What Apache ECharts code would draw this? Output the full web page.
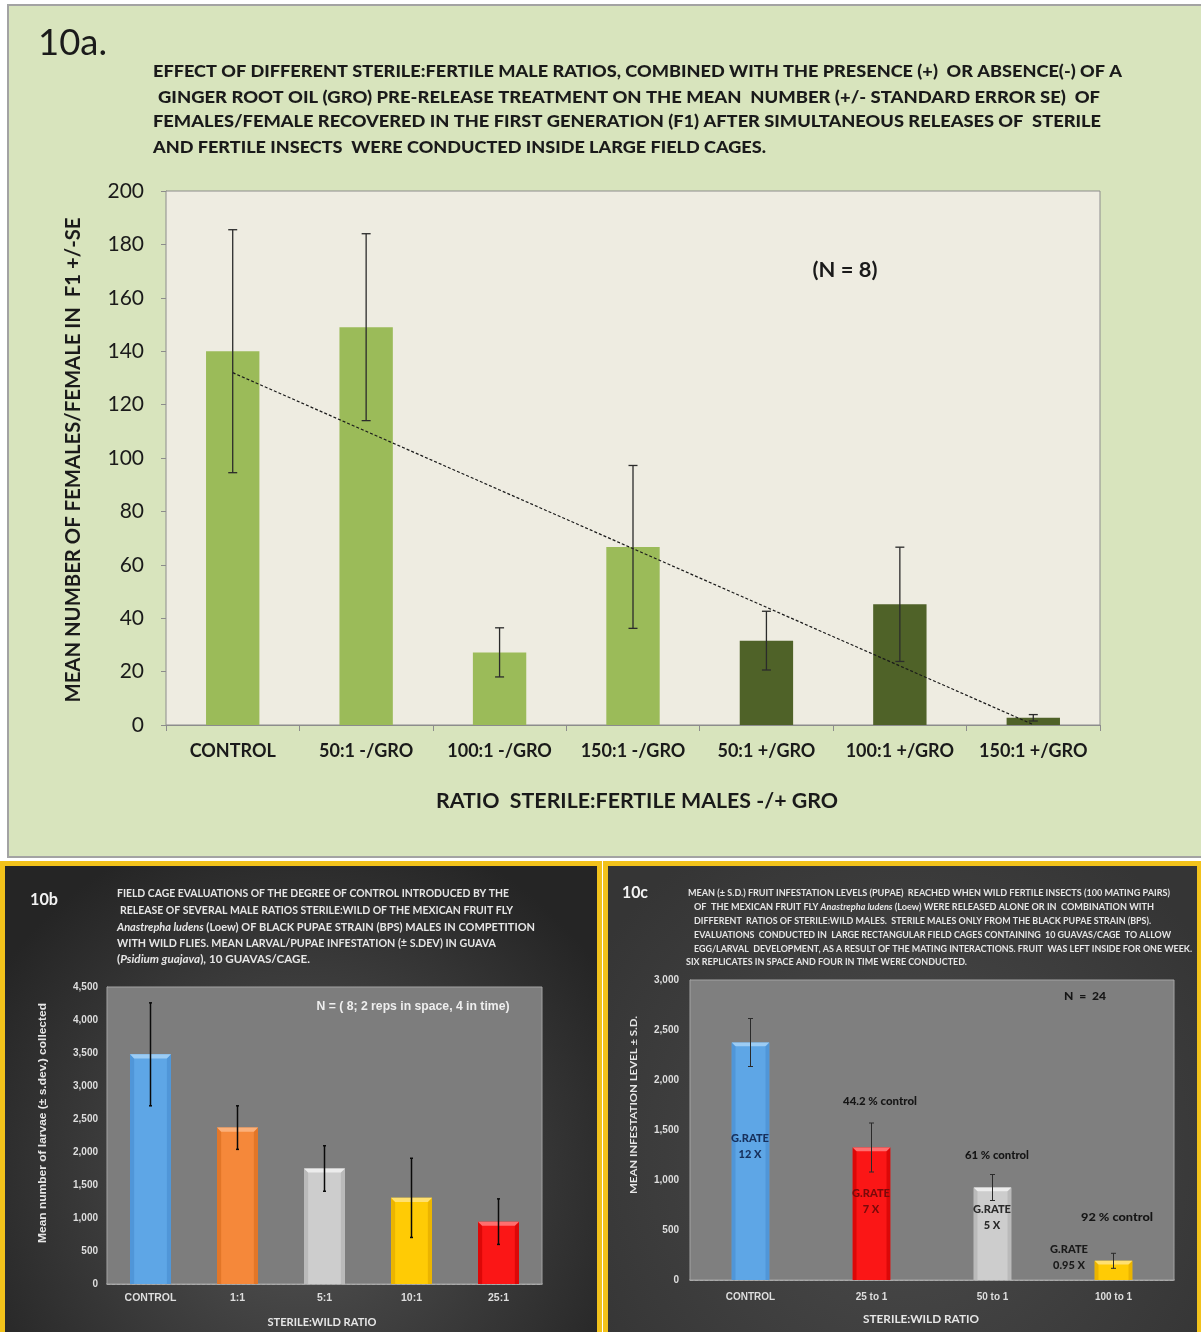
<!DOCTYPE html>
<html>
<head>
<meta charset="utf-8">
<script src="https://cdn.jsdelivr.net/npm/echarts@6/dist/echarts.min.js"></script>
<style>
  html, body { margin: 0; padding: 0; background: #ffffff; }
  #chart { width: 1201px; height: 1332px; }
</style>
</head>
<body>
<div id="chart"></div>
<script>
// ---------- 10a: sterile:fertile ratios with / without GRO ----------
const catsA = ['CONTROL', '50:1 -/GRO', '100:1 -/GRO', '150:1 -/GRO', '50:1 +/GRO', '100:1 +/GRO', '150:1 +/GRO'];
const meanA = [140, 149, 27.2, 66.7, 31.6, 45.2, 2.7];
const seA = [45.5, 35, 9.2, 30.5, 11, 21.4, 1.2];
const groA = [false, false, false, false, true, true, true];
const yTicksA = [0, 20, 40, 60, 80, 100, 120, 140, 160, 180, 200];

// ---------- 10b: larvae per sterile:wild ratio ----------
const catsB = ['CONTROL', '1:1', '5:1', '10:1', '25:1'];
const meanB = [3480, 2370, 1750, 1305, 945];
const sdB = [780, 330, 345, 600, 345];
const yTicksB = [0, 500, 1000, 1500, 2000, 2500, 3000, 3500, 4000, 4500];

// ---------- 10c: infestation per sterile:wild ratio ----------
const catsC = ['CONTROL', '25 to 1', '50 to 1', '100 to 1'];
const meanC = [2375, 1325, 925, 192];
const sdC = [240, 245, 130, 75];
const controlPctC = ['', '44.2 % control', '61 % control', '92 % control'];
const growthRateC = ['12 X', '7 X', '5 X', '0.95 X'];
const yTicksC = [0, 500, 1000, 1500, 2000, 2500, 3000];

// ---------- text ----------
const headA = [
  'EFFECT OF DIFFERENT STERILE:FERTILE MALE RATIOS, COMBINED WITH THE PRESENCE (+)  OR ABSENCE(-) OF A',
  'GINGER ROOT OIL (GRO) PRE-RELEASE TREATMENT ON THE MEAN  NUMBER (+/- STANDARD ERROR SE)  OF',
  'FEMALES/FEMALE RECOVERED IN THE FIRST GENERATION (F1) AFTER SIMULTANEOUS RELEASES OF  STERILE',
  'AND FERTILE INSECTS  WERE CONDUCTED INSIDE LARGE FIELD CAGES.'
];
const headB = [
  [['FIELD CAGE EVALUATIONS OF THE DEGREE OF CONTROL INTRODUCED BY THE']],
  [['RELEASE OF SEVERAL MALE RATIOS STERILE:WILD OF THE MEXICAN FRUIT FLY']],
  [['Anastrepha ludens', true], [' (Loew) OF BLACK PUPAE STRAIN (BPS) MALES IN COMPETITION']],
  [['WITH WILD FLIES. MEAN LARVAL/PUPAE INFESTATION (\u00b1 S.DEV) IN GUAVA']],
  [['('], ['Psidium guajava', true], ['), 10 GUAVAS/CAGE.']]
];
const headC = [
  [['MEAN (\u00b1 S.D.) FRUIT INFESTATION LEVELS (PUPAE)  REACHED WHEN WILD FERTILE INSECTS (100 MATING PAIRS)']],
  [['OF  THE MEXICAN FRUIT FLY '], ['Anastrepha ludens', true], [' (Loew) WERE RELEASED ALONE OR IN  COMBINATION WITH']],
  [['DIFFERENT  RATIOS OF STERILE:WILD MALES.  STERILE MALES ONLY FROM THE BLACK PUPAE STRAIN (BPS).']],
  [['EVALUATIONS  CONDUCTED IN  LARGE RECTANGULAR FIELD CAGES CONTAINING  10 GUAVAS/CAGE  TO ALLOW']],
  [['EGG/LARVAL  DEVELOPMENT, AS A RESULT OF THE MATING INTERACTIONS. FRUIT  WAS LEFT INSIDE FOR ONE WEEK.']],
  [['SIX REPLICATES IN SPACE AND FOUR IN TIME WERE CONDUCTED.']]
];

// ---------- fonts / helpers ----------
const FONT_A = 'Lato, "Liberation Sans", sans-serif';
const FONT_N = '"Liberation Sans Narrow", "Liberation Sans", sans-serif';
const mctx = document.createElement('canvas').getContext('2d');

// Text line squeezed/stretched horizontally so it spans a given width
function textLine(segs, o) {
  const weight = o.weight || 'bold';
  let w = 0;
  segs.forEach(([t, it]) => {
    mctx.font = `${it ? 'italic ' : ''}${weight} ${o.size}px ${o.family}`;
    w += mctx.measureText(t).width;
  });
  const sx = o.width ? o.width / w : 1;
  const base = { fill: o.color, fontSize: o.size, fontWeight: weight, fontFamily: o.family };
  const align = o.align || 'left';
  return {
    type: 'text', x: o.x, y: o.y, scaleX: sx, rotation: o.rotation || 0, z: 100,
    style: {
      text: segs.map(([t, it]) => `{${it ? 'i' : 'n'}|${t}}`).join(''),
      rich: { n: Object.assign({}, base), i: Object.assign({ fontStyle: 'italic' }, base) },
      fill: o.color, fontSize: o.size, fontWeight: weight, fontFamily: o.family,
      align: align, textAlign: align, verticalAlign: 'middle', textVerticalAlign: 'middle'
    }
  };
}
function plainText(text, o) {
  return textLine([[text]], o);
}

// least-squares trend through the 10a means
const nA = meanA.length;
const xMeanA = (nA - 1) / 2;
const yMeanA = meanA.reduce((s, v) => s + v, 0) / nA;
let sxy = 0, sxx = 0;
meanA.forEach((v, i) => { sxy += (i - xMeanA) * (v - yMeanA); sxx += (i - xMeanA) * (i - xMeanA); });
const slopeA = sxy / sxx;
const trendA = meanA.map((_, i) => yMeanA + slopeA * (i - xMeanA));

function errorBars(axis, means, errs, style, cap) {
  return {
    type: 'custom', xAxisIndex: axis, yAxisIndex: axis, z: 12, silent: true,
    data: means.map((m, i) => [i, m - errs[i], m + errs[i]]),
    renderItem(params, api) {
      const i = api.value(0);
      const lo = api.coord([i, api.value(1)]);
      const hi = api.coord([i, api.value(2)]);
      return {
        type: 'group', children: [
          { type: 'line', shape: { x1: lo[0], y1: lo[1], x2: hi[0], y2: hi[1] }, style },
          { type: 'line', shape: { x1: lo[0] - cap, y1: lo[1], x2: lo[0] + cap, y2: lo[1] }, style },
          { type: 'line', shape: { x1: hi[0] - cap, y1: hi[1], x2: hi[0] + cap, y2: hi[1] }, style }
        ]
      };
    }
  };
}

// bevelled bars for the dark panels
function bevelBars(axis, means, palette, frac) {
  return {
    type: 'custom', xAxisIndex: axis, yAxisIndex: axis, z: 5, silent: true,
    data: means.map((m, i) => [i, m]),
    renderItem(params, api) {
      const i = api.value(0);
      const top = api.coord([i, api.value(1)]);
      const base = api.coord([i, 0]);
      const bw = api.size([1, 0])[0] * frac;
      const x0 = top[0] - bw / 2, x1 = top[0] + bw / 2, y0 = top[1], y1 = base[1];
      const b = Math.max(3, bw * 0.1);
      const c = palette[i];
      return {
        type: 'group', children: [
          { type: 'rect', shape: { x: x0, y: y0, width: bw, height: y1 - y0 }, style: { fill: c[0] } },
          { type: 'polygon', shape: { points: [[x0, y0], [x0 + b, y0 + b], [x0 + b, y1], [x0, y1]] }, style: { fill: c[2] } },
          { type: 'polygon', shape: { points: [[x1, y0], [x1 - b, y0 + b], [x1 - b, y1], [x1, y1]] }, style: { fill: c[2] } },
          { type: 'polygon', shape: { points: [[x0, y0], [x1, y0], [x1 - b, y0 + b], [x0 + b, y0 + b]] }, style: { fill: c[1] } }
        ]
      };
    }
  };
}

const palB = [
  ['#5ea6e6', '#9cccf4', '#5096d8'],
  ['#f5883a', '#fbb07a', '#e27628'],
  ['#cdcdcd', '#ececec', '#bababa'],
  ['#ffcb05', '#ffe070', '#ebb400'],
  ['#fb1616', '#ff6e6e', '#dc0808']
];
const palC = [palB[0], palB[4], palB[2], palB[3]];

const thousands = v => v.toLocaleString('en-US');

// ---------- graphic layer ----------
const g = [];
// panel backgrounds
g.push({ type: 'rect', z: -20, shape: { x: 8, y: 5, width: 1200, height: 852 },
  style: { fill: '#d8e4bd', stroke: '#a3a3a3', lineWidth: 2 } });
g.push({ type: 'rect', z: -20, shape: { x: 2.5, y: 863.5, width: 597, height: 480 },
  style: { fill: new echarts.graphic.RadialGradient(0.5, 0.65, 0.75, [
    { offset: 0, color: '#565656' }, { offset: 1, color: '#252525' }]),
    stroke: '#f2c21b', lineWidth: 5 } });
g.push({ type: 'rect', z: -20, shape: { x: 605.5, y: 863.5, width: 594, height: 480 },
  style: { fill: new echarts.graphic.RadialGradient(0.5, 0.6, 0.75, [
    { offset: 0, color: '#4c4c4c' }, { offset: 1, color: '#353535' }]),
    stroke: '#f2c21b', lineWidth: 5 } });

// 10a texts
g.push(plainText('10a.', { x: 38, y: 43, size: 36, weight: 'normal', family: FONT_A, color: '#1a1a1a', width: 69 }));
const headAPos = [[153, 1122, 72], [158, 1100, 98], [153, 1101, 122], [153, 766, 148]];
headA.forEach((t, k) => {
  const p = headAPos[k];
  g.push(plainText(t, { x: p[0], y: p[2], size: 17, weight: 900, family: FONT_A, color: '#1a1a1a', width: p[1] - p[0] }));
});
g.push(plainText('(N = 8)', { x: 845, y: 271, size: 20, family: FONT_A, color: '#1a1a1a', align: 'center', width: 65 }));
g.push(plainText('RATIO  STERILE:FERTILE MALES -/+ GRO', { x: 637, y: 802, size: 20, family: FONT_A, color: '#1a1a1a', align: 'center', width: 402 }));
g.push(plainText('MEAN NUMBER OF FEMALES/FEMALE IN  F1 +/-SE', { x: 74, y: 460, size: 20, family: FONT_A, color: '#1a1a1a', align: 'center', width: 485, rotation: Math.PI / 2 }));

// 10b texts
g.push(plainText('10b', { x: 30, y: 900, size: 17, family: FONT_A, color: '#f2f2f2', width: 28 }));
const headBPos = [[117, 509, 893], [120, 513, 910], [117, 535, 927], [117, 496, 943], [117, 310, 959]];
headB.forEach((segs, k) => {
  const p = headBPos[k];
  g.push(textLine(segs, { x: p[0], y: p[2], size: 11.5, family: FONT_A, color: '#e6e6e6', width: p[1] - p[0] }));
});
g.push(plainText('N = ( 8; 2 reps in space, 4 in time)', { x: 413, y: 1007, size: 12, family: FONT_N, color: '#eeeeee', align: 'center', width: 193 }));
g.push(plainText('STERILE:WILD RATIO', { x: 322, y: 1322, size: 11, family: FONT_A, color: '#e6e6e6', align: 'center', width: 109 }));
g.push(plainText('Mean number of larvae (\u00b1 s.dev.) collected', { x: 43, y: 1123, size: 11, family: FONT_N, color: '#e6e6e6', align: 'center', width: 240, rotation: Math.PI / 2 }));

// 10c texts
g.push(plainText('10c', { x: 622, y: 893, size: 17, family: FONT_A, color: '#f2f2f2', width: 26 }));
const headCPos = [[688, 1170, 893], [694, 1154, 907], [694, 1151, 921], [694, 1171, 935], [694, 1192, 949], [686, 967, 962]];
headC.forEach((segs, k) => {
  const p = headCPos[k];
  g.push(textLine(segs, { x: p[0], y: p[2], size: 9.5, family: FONT_A, color: '#e6e6e6', width: p[1] - p[0] }));
});
g.push(plainText('N  =  24', { x: 1085, y: 996, size: 11, weight: 900, family: FONT_A, color: '#151515', align: 'center', width: 42 }));
g.push(plainText('STERILE:WILD RATIO', { x: 921, y: 1319, size: 11, family: FONT_A, color: '#e6e6e6', align: 'center', width: 116 }));
g.push(plainText('MEAN INFESTATION LEVEL \u00b1 S.D.', { x: 634, y: 1105, size: 10, family: FONT_A, color: '#e6e6e6', align: 'center', width: 178, rotation: Math.PI / 2 }));

// 10c bar annotations
const pctPos = [null, [880, 1101], [997, 1155], [1117, 1217]];
const pctW = [0, 74, 64, 72];
controlPctC.forEach((t, i) => {
  if (!t) return;
  g.push(plainText(t, { x: pctPos[i][0], y: pctPos[i][1], size: 11, weight: 900, family: FONT_A, color: '#151515', align: 'center', width: pctW[i] }));
});
const ratePos = [[750, 1138], [871, 1193], [992, 1209], [1069, 1249]];
const rateCol = ['#17305c', '#7a0a0a', '#2a2a2a', '#1a1a1a'];
growthRateC.forEach((t, i) => {
  const p = ratePos[i];
  g.push(plainText('G.RATE', { x: p[0], y: p[1], size: 11, weight: 900, family: FONT_A, color: rateCol[i], align: 'center', width: 38 }));
  g.push(plainText(t, { x: p[0], y: p[1] + 16, size: 11, weight: 900, family: FONT_A, color: rateCol[i], align: 'center' }));
});

// ---------- chart ----------
const chart = echarts.init(document.getElementById('chart'), null, { renderer: 'canvas', width: 1201, height: 1332 });

const darkAxisLabel = { color: '#dedede', fontWeight: 'bold', fontSize: 10.5, fontFamily: FONT_N };

chart.setOption({
  animation: false,
  backgroundColor: '#ffffff',
  graphic: { elements: g },
  grid: [
    { left: 166, top: 191, width: 934, height: 534, show: true, backgroundColor: '#eeece1', borderColor: '#8c8c8c', borderWidth: 1, z: 1 },
    { left: 107, top: 987, width: 435, height: 297, show: true, backgroundColor: '#7d7d7d', borderColor: '#a4a4a4', borderWidth: 1, z: 1 },
    { left: 690, top: 980, width: 484, height: 300, show: true, backgroundColor: '#7f7f7f', borderColor: '#a4a4a4', borderWidth: 1, z: 1 }
  ],
  xAxis: [
    { gridIndex: 0, type: 'category', data: catsA,
      axisLine: { lineStyle: { color: '#8c8c8c', width: 1 } },
      axisTick: { show: true, length: 6, lineStyle: { color: '#8c8c8c' } },
      axisLabel: { color: '#1a1a1a', fontWeight: 'bold', fontSize: 18, fontFamily: FONT_A, margin: 17, interval: 0 } },
    { gridIndex: 1, type: 'category', data: catsB,
      axisLine: { lineStyle: { color: '#b4b4b4', width: 1.5 } },
      axisTick: { show: false },
      axisLabel: Object.assign({ margin: 9, interval: 0 }, darkAxisLabel) },
    { gridIndex: 2, type: 'category', data: catsC,
      axisLine: { lineStyle: { color: '#b4b4b4', width: 1.5 } },
      axisTick: { show: false },
      axisLabel: Object.assign({ margin: 12, interval: 0 }, darkAxisLabel, { fontSize: 10 }) }
  ],
  yAxis: [
    { gridIndex: 0, type: 'value', min: yTicksA[0], max: yTicksA[yTicksA.length - 1], interval: yTicksA[1] - yTicksA[0],
      axisLine: { show: true, lineStyle: { color: '#8c8c8c' } },
      axisTick: { show: true, length: 5, lineStyle: { color: '#8c8c8c' } },
      splitLine: { lineStyle: { color: '#8c8c8c', width: 1 } },
      axisLabel: { color: '#1a1a1a', fontSize: 21, fontFamily: FONT_A, margin: 22 } },
    { gridIndex: 1, type: 'value', min: yTicksB[0], max: yTicksB[yTicksB.length - 1], interval: yTicksB[1] - yTicksB[0],
      axisLine: { show: true, lineStyle: { color: '#a4a4a4' } },
      axisTick: { show: false },
      splitLine: { lineStyle: { color: '#a6a6a6', width: 1, type: [3, 2] } },
      axisLabel: Object.assign({ margin: 9, formatter: thousands }, darkAxisLabel, { fontSize: 10 }) },
    { gridIndex: 2, type: 'value', min: yTicksC[0], max: yTicksC[yTicksC.length - 1], interval: yTicksC[1] - yTicksC[0],
      axisLine: { show: true, lineStyle: { color: '#a4a4a4' } },
      axisTick: { show: false },
      splitLine: { lineStyle: { color: '#a6a6a6', width: 1, type: [3, 2] } },
      axisLabel: Object.assign({ margin: 11, formatter: thousands }, darkAxisLabel, { fontSize: 10 }) }
  ],
  series: [
    { type: 'bar', xAxisIndex: 0, yAxisIndex: 0, barWidth: '40%', z: 5, silent: true,
      data: meanA.map((v, i) => ({ value: v, itemStyle: { color: groA[i] ? '#4f6228' : '#9bbb59' } })) },
    { type: 'line', xAxisIndex: 0, yAxisIndex: 0, data: trendA, symbol: 'none', z: 8, silent: true,
      lineStyle: { color: '#1a1a1a', width: 1.2, type: [3, 2] } },
    errorBars(0, meanA, seA, { stroke: '#2b2b2b', lineWidth: 1.3 }, 4.5),

    bevelBars(1, meanB, palB, 0.47),
    errorBars(1, meanB, sdB, { stroke: '#0a0a0a', lineWidth: 1.5 }, 1.5),

    bevelBars(2, meanC, palC, 0.31),
    errorBars(2, meanC, sdC, { stroke: '#2a2a2a', lineWidth: 1 }, 2.5)
  ]
});
</script>
</body>
</html>
